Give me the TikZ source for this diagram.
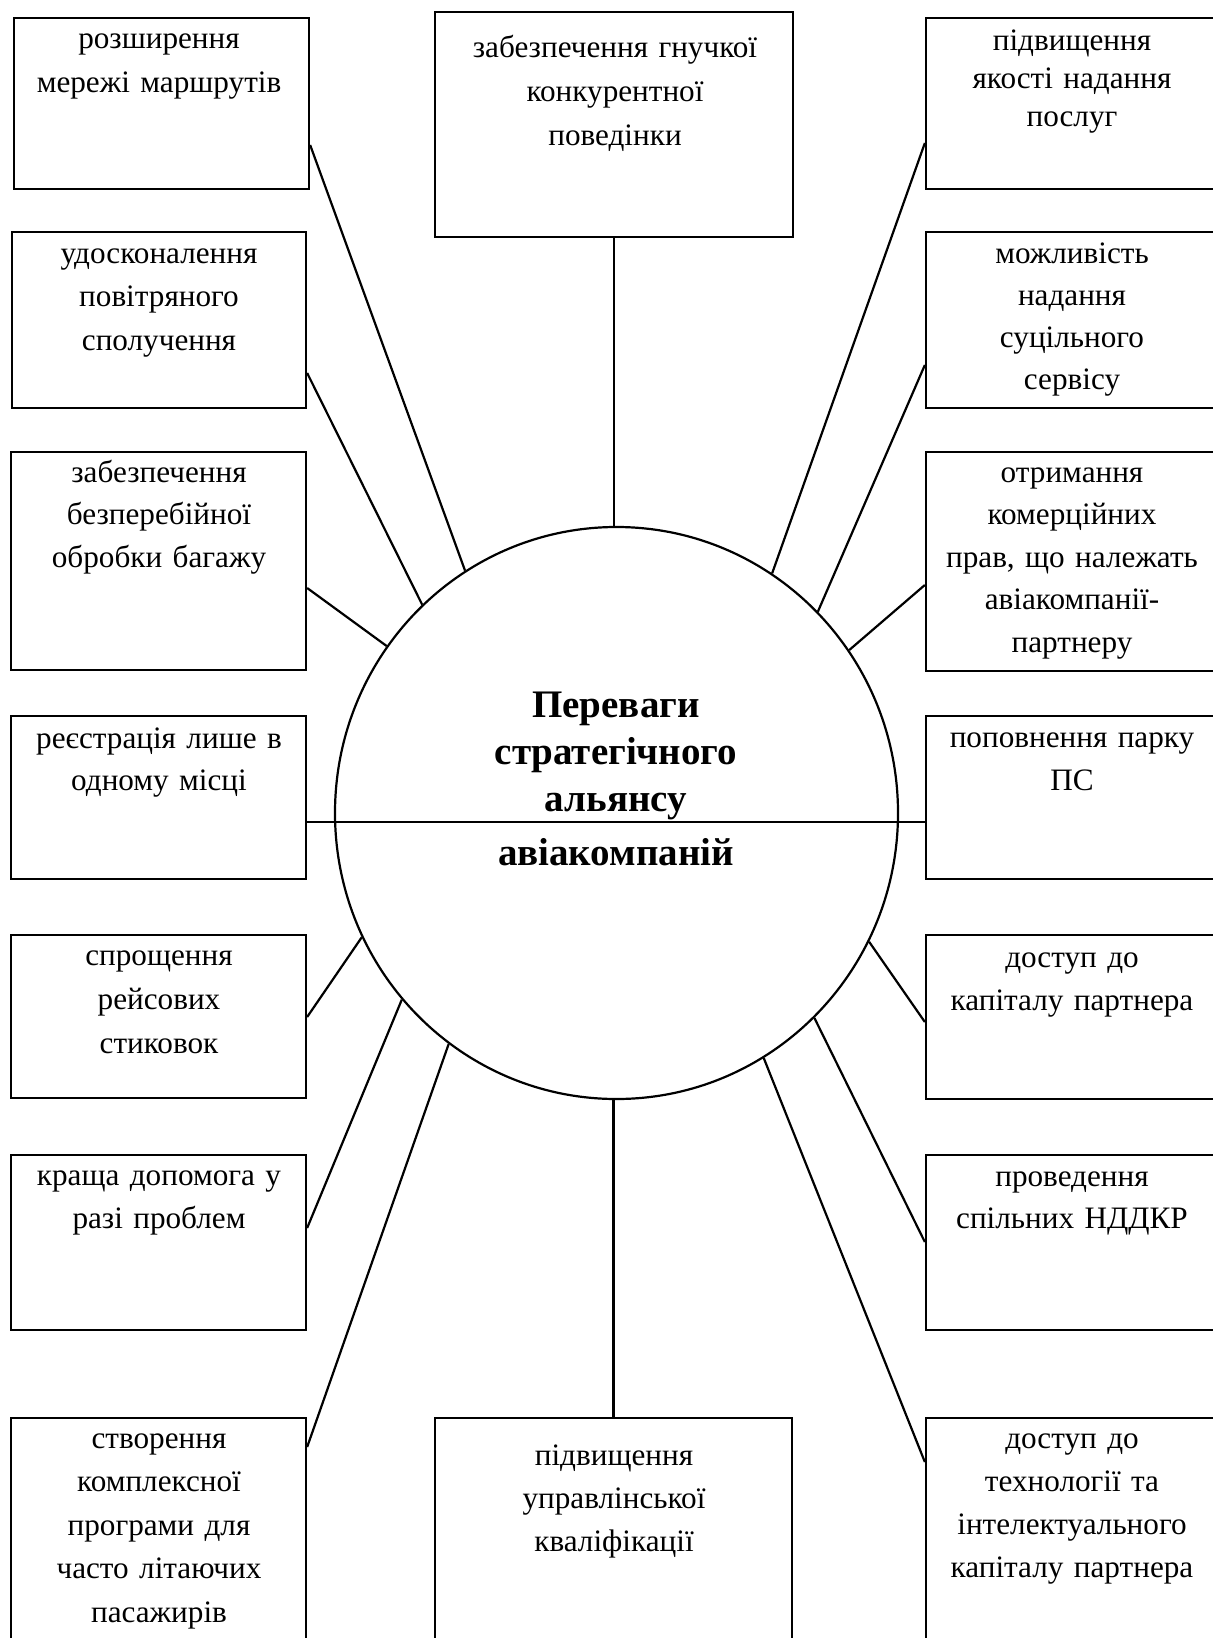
\documentclass[tikz,border=0pt]{standalone}
\usepackage{fontspec}
\setmainfont{Liberation Serif}
\usetikzlibrary{fit,shapes.geometric}
\begin{document}
\begin{tikzpicture}[x=0.5pt,y=-0.5pt,
  box/.style={draw, line width=1.15pt, inner sep=0pt},
  wire/.style={line width=1.1pt},
  txt/.style={font=\fontsize{15.6}{#1}\selectfont, text width=150pt, align=center, anchor=base, inner sep=0pt},
  txt/.default=21.5,
  ttl/.style={font=\fontsize{19.5}{23.5}\selectfont\bfseries, text width=200pt, align=center, anchor=base, inner sep=0pt}]
\useasboundingbox (0,0) rectangle (1213,1638);

% circle
\node[draw, line width=1.1pt, ellipse, minimum width=281.5pt, minimum height=286pt, inner sep=0pt] (C) at (616.5,813) {};

% left boxes
\node[box, fit={(14,18)(309,189)}] (b1) {};
\node[box, fit={(12,232)(306,408)}] (b2) {};
\node[box, fit={(11,452)(306,670)}] (b3) {};
\node[box, fit={(11,716)(306,879)}] (b4) {};
\node[box, fit={(11,935)(306,1098)}] (b5) {};
\node[box, fit={(11,1155)(306,1330)}] (b6) {};
\node[box, fit={(11,1418)(306,1641)}] (b7) {};
% right boxes
\node[box, fit={(926,18)(1217,189)}] (r1) {};
\node[box, fit={(926,232)(1217,408)}] (r2) {};
\node[box, fit={(926,452)(1217,671)}] (r3) {};
\node[box, fit={(926,716)(1217,879)}] (r4) {};
\node[box, fit={(926,935)(1217,1099)}] (r5) {};
\node[box, fit={(926,1155)(1217,1330)}] (r6) {};
\node[box, fit={(926,1418)(1217,1641)}] (r7) {};
% center boxes
\node[box, fit={(435,12)(793,237)}] (top) {};
\node[box, fit={(435,1418)(792,1641)}] (bot) {};

% texts
\node[txt=22] (t1) at (159,48) {розширення\\мережі маршрутів};
\node[txt=21.75] (t2) at (159,263) {удосконалення\\повітряного\\сполучення};
\node[txt=21.25] (t3) at (159,482) {забезпечення\\безперебійної\\обробки багажу};
\node[txt=21] (t4) at (159,748) {реєстрація лише в\\одному місці};
\node[txt=22] (t5) at (159,965) {спрощення\\рейсових\\стиковок};
\node[txt=21.5] (t6) at (159,1185) {краща допомога у\\разі проблем};
\node[txt=21.75] (t7) at (159,1448) {створення\\комплексної\\програми для\\часто літаючих\\пасажирів};
\node[txt=22] (tt) at (615,57) {забезпечення гнучкої\\конкурентної\\поведінки};
\node[txt=21.5] (tb) at (614,1465) {підвищення\\управлінської\\кваліфікації};
\node[txt=19] (s1) at (1072,50) {підвищення\\якості надання\\послуг};
\node[txt=21] (s2) at (1072,263) {можливість\\надання\\суцільного\\сервісу};
\node[txt=21.25] (s3) at (1072,482) {отримання\\комерційних\\прав, що належать\\авіакомпанії-\\партнеру};
\node[txt=21.5] (s4) at (1072,747) {поповнення парку\\ПС};
\node[txt=21.5] (s5) at (1072,967) {доступ до\\капіталу партнера};
\node[txt=21] (s6) at (1072,1186) {проведення\\спільних НДДКР};
\node[txt=21.5] (s7) at (1072,1448) {доступ до\\технології та\\інтелектуального\\капіталу партнера};
\node[ttl] (title) at (616,717) {Переваги\\стратегічного\\альянсу\\[3.5pt]авіакомпаній};

% connectors
\draw[wire] (top.south) -- (top.south |- C.north);
\draw[wire] (bot.north) -- (bot.north |- C.south);
\draw[wire] (b4.east |- 0,822) -- (r4.west |- 0,822);
\draw[wire] (b1.east |- 0,145) -- (C.122.8);
\draw[wire] (b2.east |- 0,373) -- (C.133.8);
\draw[wire] (b3.east |- 0,588) -- (C.144.9);
\draw[wire] (b5.east |- 0,1017) -- (C.206.5);
\draw[wire] (b6.east |- 0,1228) -- (C.221.5);
\draw[wire] (b7.east |- 0,1447) -- (C.234.2);
\draw[wire] (r1.west |- 0,143) -- (C.57.4);
\draw[wire] (r2.west |- 0,365) -- (C.45.1);
\draw[wire] (r3.west |- 0,585) -- (C.35.2);
\draw[wire] (r5.west |- 0,1022) -- (C.-27.8);
\draw[wire] (r6.west |- 0,1242) -- (C.-46.6);
\draw[wire] (r7.west |- 0,1462) -- (C.-59.4);
\end{tikzpicture}
\end{document}
